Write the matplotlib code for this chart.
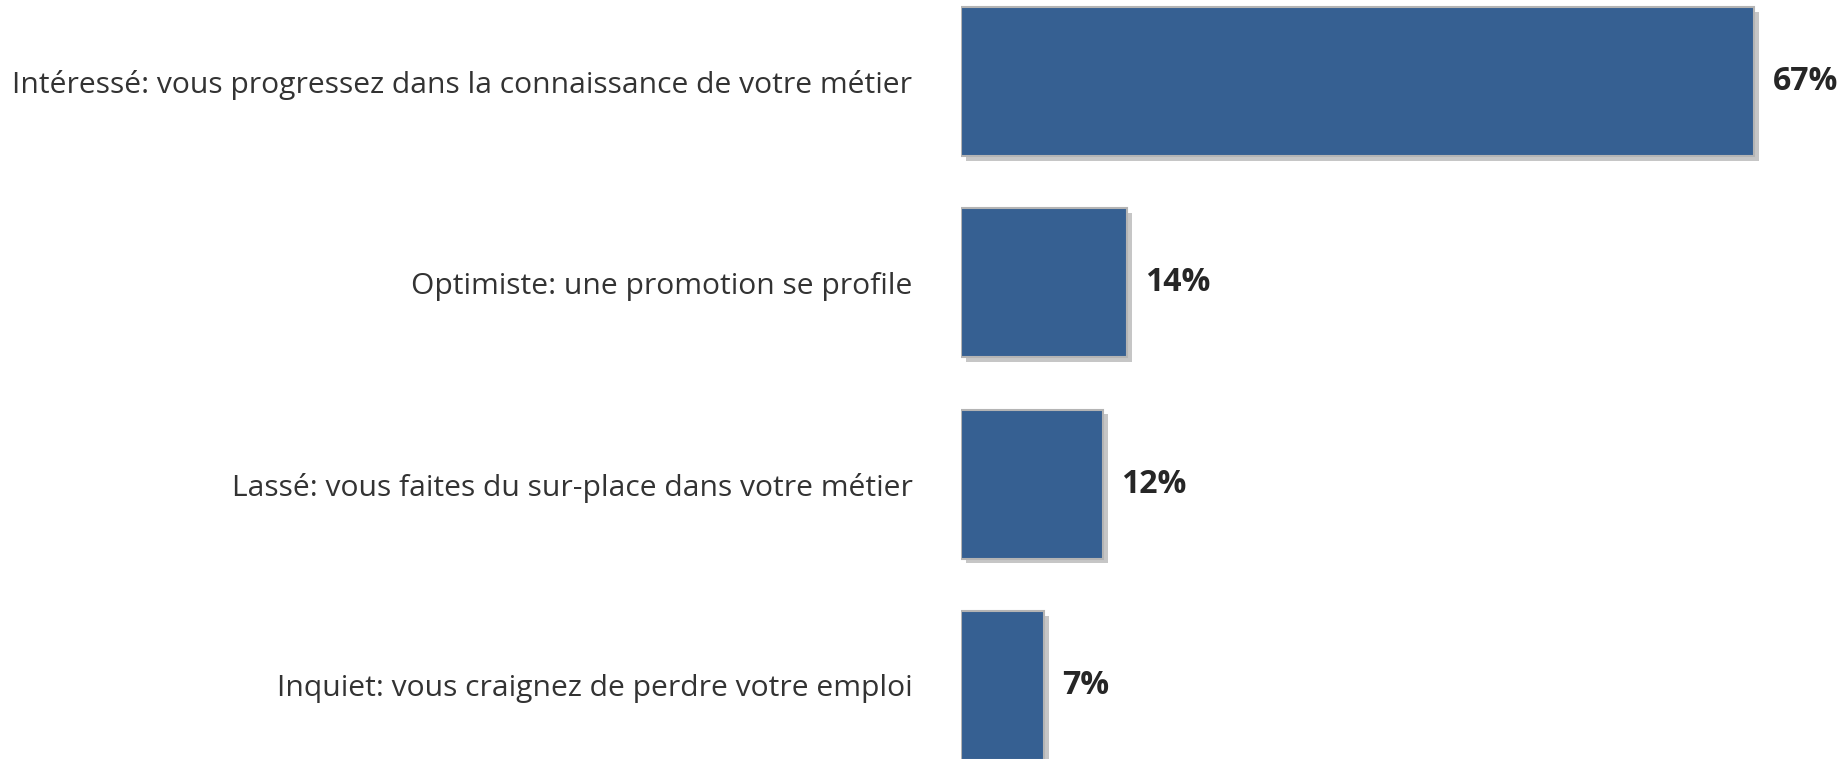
import matplotlib
matplotlib.use("Agg")
import matplotlib.pyplot as plt
import matplotlib.patheffects as pe

# Data
categories = [
    "Intéressé: vous progressez dans la connaissance de votre métier",
    "Optimiste: une promotion se profile",
    "Lassé: vous faites du sur-place dans votre métier",
    "Inquiet: vous craignez de perdre votre emploi",
]
values = [67, 14, 12, 7]
value_labels = ["67%", "14%", "12%", "7%"]

plt.rcParams['font.family'] = ['Open Sans', 'DejaVu Sans']

fig = plt.figure(figsize=(18.48, 7.59), dpi=100)
ax = fig.add_axes([961 / 1848, 0, 1 - 961 / 1848, 1])

positions = list(range(len(categories)))
shadow = [pe.SimplePatchShadow(offset=(3.5, -3.5), shadow_rgbFace='#c6c6c6', alpha=1.0),
          pe.Normal()]
bars = ax.barh(positions, values, height=0.74, color='#366092',
               edgecolor='#b4b4b4', linewidth=1.5)
for b in bars:
    b.set_path_effects(shadow)

ax.set_xlim(0, 74.9)
ax.set_ylim(3.366, -0.405)

# value labels
for p, v, lab in zip(positions, values, value_labels):
    ax.annotate(lab, xy=(v, p), xytext=(13, 0), textcoords='offset points',
                ha='left', va='center', fontsize=23, fontweight='bold',
                color='#262626')

# category labels
ax.set_yticks(positions)
ax.set_yticklabels(categories, fontsize=21.6, color='#333333')
ax.tick_params(axis='y', length=0, pad=35)
ax.set_xticks([])
for s in ax.spines.values():
    s.set_visible(False)

plt.savefig("out.png", dpi=100)
